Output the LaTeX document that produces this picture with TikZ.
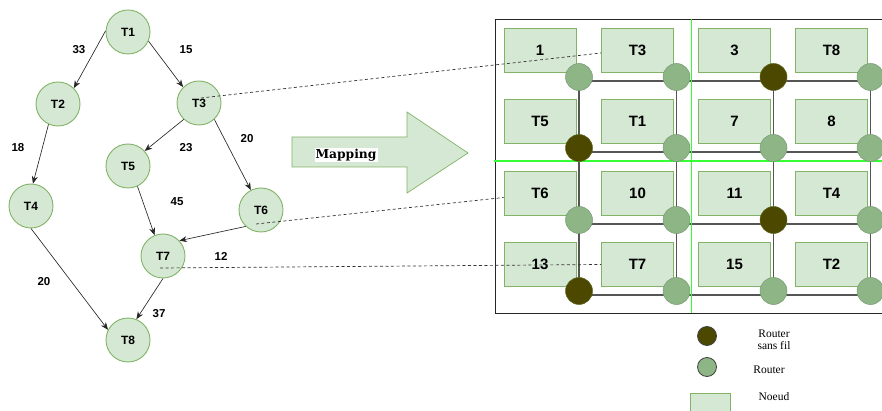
\documentclass[tikz,border=0pt]{standalone}
\usepackage{fontspec}
\setmainfont{Liberation Serif}
\setsansfont{Liberation Sans}
\newfontfamily\mapfont{DejaVu Serif}
\usetikzlibrary{arrows.meta}
\definecolor{nodefill}{HTML}{D5E8D4}
\definecolor{nodeline}{HTML}{82B366}
\definecolor{routerlight}{HTML}{8DB586}
\definecolor{routerdark}{HTML}{4D4800}
\definecolor{meshline}{HTML}{555555}
\definecolor{zoneline}{HTML}{33FF33}

\begin{document}
\begin{tikzpicture}[x=1pt,y=-1pt,
  task/.style={circle,draw=nodeline,fill=nodefill,line width=0.9pt,minimum size=44pt,
    inner sep=0pt,font=\sffamily\bfseries\fontsize{12}{14}\selectfont},
  weight/.style={font=\sffamily\bfseries\fontsize{11.5}{13}\selectfont,inner sep=0pt},
  dep/.style={-{Stealth[length=7.5pt,width=6pt]},line width=0.65pt,black!85},
  tile/.style={rectangle,draw=nodeline,fill=nodefill,line width=0.7pt,minimum width=72pt,
    minimum height=44pt,inner sep=0pt,font=\sffamily\bfseries\fontsize{15}{17}\selectfont},
  router/.style={circle,fill=routerlight,draw=routerlight!85!black,line width=0.5pt,
    minimum size=27pt,inner sep=0pt},
  wrouter/.style={router,fill=routerdark,draw=routerdark!70!nodeline},
  link/.style={meshline,line width=1.1pt},
  mapline/.style={black!80,line width=0.7pt,dash pattern=on 3pt off 2.5pt},
  legendtxt/.style={font=\fontsize{11.5}{13}\selectfont,inner sep=0pt,align=center}
]
\useasboundingbox (0,0) rectangle (882,411);
\clip (0,0) rectangle (882,411);

% ---------- task graph ----------
\node[task] (T1) at (128,32)  {T1};
\node[task] (T2) at (58,104)  {T2};
\node[task] (T3) at (199,103) {T3};
\node[task] (T5) at (128,166) {T5};
\node[task] (T4) at (31,206)  {T4};
\node[task] (T6) at (261,210) {T6};
\node[task] (T7) at (163,256) {T7};
\node[task] (T8) at (128,340) {T8};

\draw[dep] (T1.177) -- (T2.45);
\draw[dep] (T1.-24) -- (T3.135);
\draw[dep] (T2.-115) -- (T4.85);
\draw[dep] (T3.227) -- (T5.42);
\draw[dep] (T3.-47) -- (T6.117);
\draw[dep] (T5.-65) -- (T7.112);
\draw[dep] (T6.227) -- (T7.43);
\draw[dep] (T4.-90) -- (T8.153);
\draw[dep] (T7.-90) -- (T8.68);

\node[weight] (w12) at (79,50)   {33};
\node[weight] (w13) at (186,50)  {15};
\node[weight] (w24) at (18,148)  {18};
\node[weight] (w35) at (186,148) {23};
\node[weight] (w36) at (247,139) {20};
\node[weight] (w57) at (177,202) {45};
\node[weight] (w67) at (221,256) {12};
\node[weight] (w48) at (44,282)  {20};
\node[weight] (w78) at (159,314) {37};

% ---------- mapping arrow ----------
\filldraw[fill=nodefill,draw=nodeline,line width=0.7pt]
  (292,137) -- (407,137) -- (407,112) -- (468,153) -- (407,193) -- (407,167) -- (292,167) -- cycle;
\node[fill=white,inner sep=1pt,font=\mapfont\bfseries\fontsize{12.3}{14}\selectfont] (maplbl) at (346,155) {Mapping};

% ---------- network on chip ----------
\draw[black!85,line width=0.9pt] (884,19) -- (495,19) -- (495,313) -- (884,313);

% router positions
\foreach \r/\y in {1/77,2/148,3/220,4/291}{
  \foreach \c/\x in {1/579,2/676.5,3/773.5,4/870.5}{
    \coordinate (p\r\c) at (\x,\y);
  }
}
% mesh links
\foreach \r in {1,2,3,4}{
  \draw[link] ([yshift=-4pt]p\r1) -- ([yshift=-4pt]p\r4);
}
\foreach \c in {1,2,3,4}{
  \draw[link] (p1\c) -- (p4\c);
}

% zone separators
\draw[zoneline,line width=1.3pt] (691.5,19) -- (691.5,313);
\draw[zoneline,line width=1.3pt] (494,161) -- (884,161);

% processing tiles
\foreach \r/\y in {1/50,2/121.5,3/193.5,4/264.5}{
  \foreach \c/\x in {1/540,2/637.5,3/734.5,4/831.5}{
    \coordinate (q\r\c) at (\x,\y);
  }
}
\node[tile] (bx11) at (q11) {1};
\node[tile] (bx12) at (q12) {T3};
\node[tile] (bx13) at (q13) {3};
\node[tile] (bx14) at (q14) {T8};
\node[tile] (bx21) at (q21) {T5};
\node[tile] (bx22) at (q22) {T1};
\node[tile] (bx23) at (q23) {7};
\node[tile] (bx24) at (q24) {8};
\node[tile] (bx31) at (q31) {T6};
\node[tile] (bx32) at (q32) {10};
\node[tile] (bx33) at (q33) {11};
\node[tile] (bx34) at (q34) {T4};
\node[tile] (bx41) at (q41) {13};
\node[tile] (bx42) at (q42) {T7};
\node[tile] (bx43) at (q43) {15};
\node[tile] (bx44) at (q44) {T2};

% routers: wireless ones are dark
\node[router]  (r11) at (p11) {};
\node[router]  (r12) at (p12) {};
\node[wrouter] (r13) at (p13) {};
\node[router]  (r14) at (p14) {};
\node[wrouter] (r21) at (p21) {};
\node[router]  (r22) at (p22) {};
\node[router]  (r23) at (p23) {};
\node[router]  (r24) at (p24) {};
\node[router]  (r31) at (p31) {};
\node[router]  (r32) at (p32) {};
\node[wrouter] (r33) at (p33) {};
\node[router]  (r34) at (p34) {};
\node[wrouter] (r41) at (p41) {};
\node[router]  (r42) at (p42) {};
\node[router]  (r43) at (p43) {};
\node[router]  (r44) at (p44) {};

% task placement links
\coordinate (d3) at (201,98);
\coordinate (d6) at (256,224);
\coordinate (d7) at (160,268);
\draw[mapline] (d3) -- ([yshift=-3pt]bx12.west);
\draw[mapline] (d6) -- ([yshift=-4pt]bx31.west);
\draw[mapline] (d7) -- (bx42.west);

% ---------- legend ----------
\node[circle,minimum size=19pt,inner sep=0pt,fill=routerdark,draw=black!75,line width=0.8pt] (lgw) at (707,336) {};
\node[circle,minimum size=19pt,inner sep=0pt,fill=routerlight,draw=black!75,line width=0.8pt] (lgr) at (707,367) {};
\node[rectangle,fill=nodefill,draw=nodeline,line width=0.7pt,minimum width=40pt,minimum height=22pt,inner sep=0pt] (lgt) at (710,404) {};
\node[legendtxt] (lgwt) at (774,340) {Router\\[-1pt]sans fil};
\node[legendtxt] (lgrt) at (769,370) {Router};
\node[legendtxt] (lgtt) at (774,397) {Noeud};
\end{tikzpicture}
\end{document}
